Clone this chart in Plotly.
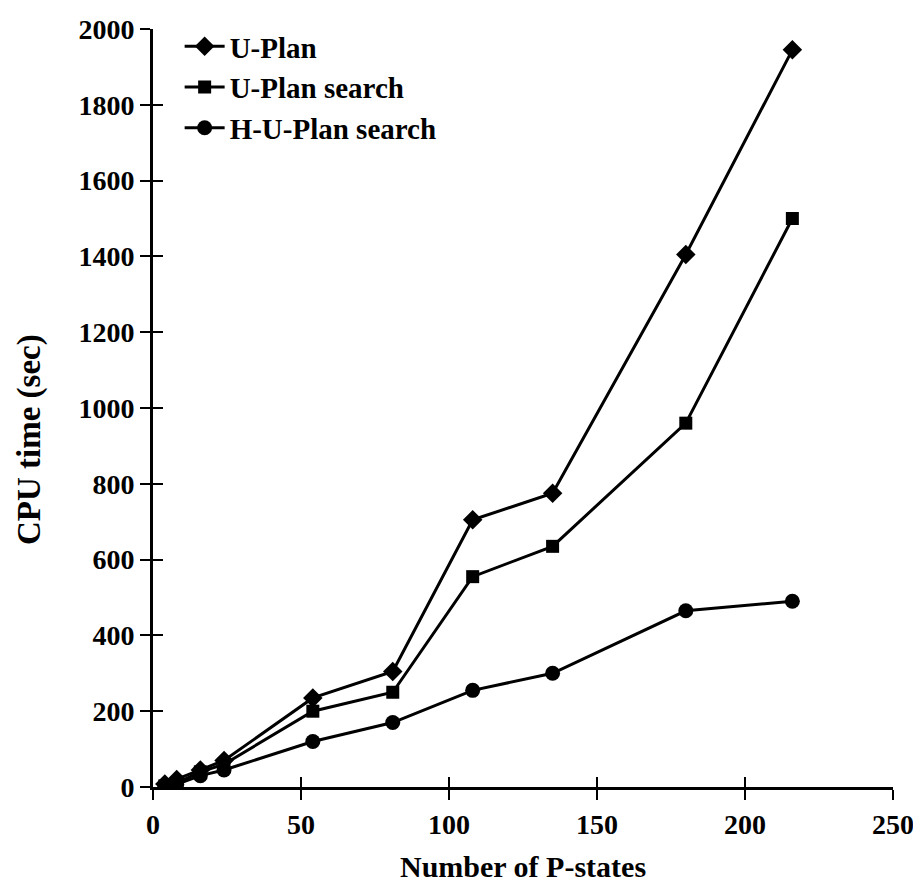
import plotly.graph_objects as go

p_states = [4, 8, 16, 24, 54, 81, 108, 135, 180, 216]
u_plan = [8, 20, 45, 70, 235, 305, 705, 775, 1405, 1945]
u_plan_search = [3, 10, 40, 60, 200, 250, 555, 635, 960, 1500]
h_u_plan_search = [2, 7, 30, 45, 120, 170, 255, 300, 465, 490]

FONT = "Liberation Serif"
fig = go.Figure()
fig.add_trace(go.Scatter(x=p_states, y=u_plan, name="U-Plan", mode="lines+markers",
                         line=dict(color="black", width=3),
                         marker=dict(symbol="diamond", size=15, color="black")))
fig.add_trace(go.Scatter(x=p_states, y=u_plan_search, name="U-Plan search", mode="lines+markers",
                         line=dict(color="black", width=3),
                         marker=dict(symbol="square", size=13, color="black")))
fig.add_trace(go.Scatter(x=p_states, y=h_u_plan_search, name="H-U-Plan search", mode="lines+markers",
                         line=dict(color="black", width=3),
                         marker=dict(symbol="circle", size=15, color="black")))

axis_common = dict(showgrid=False, zeroline=False, showline=True, linecolor="black",
                   linewidth=3, tickcolor="black", tickwidth=2, ticklen=10, automargin=False)
fig.update_layout(
    width=921, height=890,
    margin=dict(l=145, r=36, t=21, b=111),
    paper_bgcolor="white", plot_bgcolor="white",
    font=dict(family=FONT, size=28, color="black"),
    showlegend=True,
    legend=dict(x=0.036, y=1.0106, xanchor="left", yanchor="top",
                font=dict(family=FONT, size=29, color="black", weight="bold"),
                bgcolor="rgba(0,0,0,0)", tracegroupgap=0, itemwidth=40),
    xaxis=dict(range=[0, 250], tickvals=[0, 50, 100, 150, 200, 250], ticks="outside",
               tickfont=dict(family=FONT, size=28, weight="bold"),
               **axis_common),
    yaxis=dict(range=[0, 2000], tickvals=list(range(0, 2001, 200)), ticks="outside",
               tickfont=dict(family=FONT, size=28, weight="bold"),
               **axis_common),
    xaxis2=dict(overlaying="x", range=[0, 250], tickvals=[0, 50, 100, 150, 200, 250],
                ticks="inside", showticklabels=False, anchor="y", side="bottom",
                **axis_common),
    yaxis2=dict(overlaying="y", range=[0, 2000], tickvals=list(range(0, 2001, 200)),
                ticks="inside", showticklabels=False, anchor="x", side="left",
                **axis_common),
    annotations=[
        dict(text="<b>Number of P-states</b>", x=0.5, y=-0.1055, xref="paper", yref="paper",
             xanchor="center", yanchor="middle", showarrow=False,
             font=dict(family=FONT, size=30, color="black")),
        dict(text="<b>CPU time (sec)</b>", x=-0.166, y=0.458, xref="paper", yref="paper",
             xanchor="center", yanchor="middle", showarrow=False, textangle=-90,
             font=dict(family=FONT, size=33, color="black")),
    ],
)
fig.add_trace(go.Scatter(x=[None], y=[None], xaxis="x2", yaxis="y2", showlegend=False,
                         hoverinfo="skip"))
fig.write_html("out.html")
